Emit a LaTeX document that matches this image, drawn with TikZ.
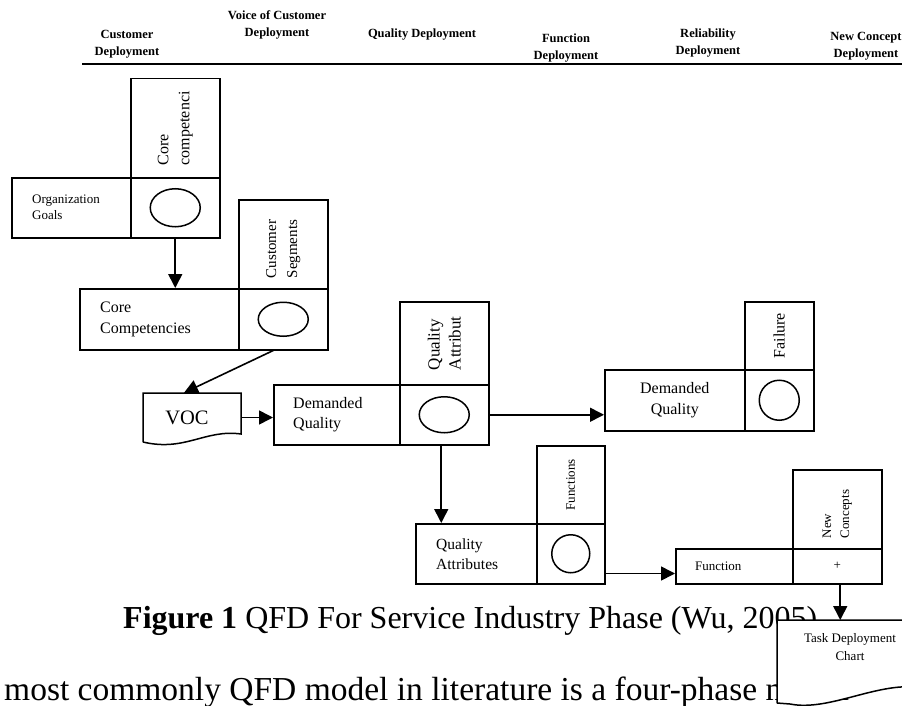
\documentclass[tikz,border=0pt]{standalone}
\usepackage{fontspec}
\setmainfont{Liberation Serif}
\usetikzlibrary{arrows.meta,shapes.geometric}
\begin{document}
\begin{tikzpicture}[x=1pt,y=-1pt,
  box/.style={draw,line width=1.5pt,inner sep=0pt,anchor=north west},
  lbl/.style={inner sep=0pt,align=left},
  vlbl/.style={inner sep=0pt,align=left,rotate=90},
  arr/.style={line width=1.6pt,-{Triangle[length=14pt,width=14pt]}},
  hdr/.style={inner sep=0pt,align=center,font=\bfseries\fontsize{12.5}{16.5}\selectfont},
  oval/.style={draw,ellipse,line width=1.5pt,inner sep=0pt}
]
\useasboundingbox (0,0) rectangle (902,706);

% header
\node[hdr] (h1) at (127,44) {Customer\\Deployment};
\node[hdr] (h2) at (277,25) {Voice of Customer\\Deployment};
\node[hdr] (h3) at (422,35) {Quality Deployment};
\node[hdr] (h4) at (566,48) {Function\\Deployment};
\node[hdr] (h5) at (708,43) {Reliability\\Deployment};
\node[hdr] (h6) at (866,46) {New Concept\\Deployment};
\coordinate (hl) at (82,64);
\coordinate (hr) at (902,64);
\draw[line width=2.5pt] (hl) -- (hr);

% Organization goals
\node[box,minimum width=89pt,minimum height=99pt] (cctop) at (130,78) {};
\node[vlbl,font=\fontsize{16}{21}\selectfont] (cctxt) at (cctop.center) {Core\\competenci};
\node[box,minimum width=119pt,minimum height=60pt] (og) at (11,177) {};
\node[box,minimum width=89pt,minimum height=60pt] (ogc) at (130,177) {};
\node[oval,minimum width=50pt,minimum height=38pt] (ogo) at (ogc.center) {};
\node[lbl,anchor=west,font=\fontsize{13}{16}\selectfont] (ogt) at ([xshift=21pt]og.west) {Organization\\Goals};

% Core competencies
\node[box,minimum width=89pt,minimum height=89pt] (cstop) at (238,199) {};
\node[vlbl,anchor=west,font=\fontsize{15}{21}\selectfont] (cstxt) at ([yshift=11pt]cstop.south) {Customer\\Segments};
\node[box,minimum width=159pt,minimum height=61pt] (ccomp) at (79,288) {};
\node[box,minimum width=89pt,minimum height=61pt] (ccompc) at (238,288) {};
\node[oval,minimum width=50pt,minimum height=34pt] (ccompo) at (ccompc.center) {};
\node[lbl,anchor=west,font=\fontsize{16}{21}\selectfont] (ccompt) at ([xshift=21pt]ccomp.west) {Core\\Competencies};

% VOC
\node[inner sep=0pt,minimum width=98pt,minimum height=49pt] (voc) at (192,417.5) {};
\draw[line width=1.5pt] (143,442) -- (143,393) -- (241,393) -- (241,434)
  .. controls (205,429) and (185,452) .. (143,442);
\node[font=\fontsize{20.5}{24}\selectfont,inner sep=0pt] (voct) at ([xshift=-5pt]voc.center) {VOC};

% Demanded quality (left)
\node[box,minimum width=89pt,minimum height=83pt] (qatop) at (399,301) {};
\node[vlbl,font=\fontsize{17}{21}\selectfont] (qatxt) at (qatop.center) {Quality\\Attribut};
\node[box,minimum width=126pt,minimum height=60pt] (dq1) at (273,384) {};
\node[box,minimum width=89pt,minimum height=60pt] (dq1c) at (399,384) {};
\node[oval,minimum width=50pt,minimum height=36pt] (dq1o) at (dq1c.center) {};
\node[lbl,anchor=west,font=\fontsize{16}{20}\selectfont] (dq1t) at ([xshift=20pt]dq1.west) {Demanded\\Quality};

% Demanded quality (right)
\node[box,minimum width=69pt,minimum height=68pt] (failtop) at (744,301) {};
\node[vlbl,font=\fontsize{16}{21}\selectfont] (failtxt) at (failtop.center) {Failure};
\node[box,minimum width=140pt,minimum height=61pt] (dq2) at (604,369) {};
\node[box,minimum width=69pt,minimum height=61pt] (dq2c) at (744,369) {};
\node[oval,minimum width=40pt,minimum height=40pt] (dq2o) at (dq2c.center) {};
\node[inner sep=0pt,align=center,font=\fontsize{16}{21}\selectfont] (dq2t) at (dq2.center) {Demanded\\Quality};

% Quality attributes
\node[box,minimum width=68pt,minimum height=78pt] (functop) at (536,445) {};
\node[vlbl,font=\fontsize{13}{18}\selectfont] (functxt) at (functop.center) {Functions};
\node[box,minimum width=121pt,minimum height=60pt] (qattr) at (415,523) {};
\node[box,minimum width=68pt,minimum height=60pt] (qattrc) at (536,523) {};
\node[oval,minimum width=38pt,minimum height=38pt] (qattro) at (qattrc.center) {};
\node[lbl,anchor=west,font=\fontsize{15.5}{20}\selectfont] (qattrt) at ([xshift=21pt]qattr.west) {Quality\\Attributes};

% Function
\node[box,minimum width=89pt,minimum height=79pt] (nctop) at (792,469) {};
\node[vlbl,anchor=west,font=\fontsize{13}{18}\selectfont] (nctxt) at ([yshift=11pt]nctop.south) {New\\Concepts};
\node[box,minimum width=117pt,minimum height=35pt] (func) at (675,548) {};
\node[box,minimum width=89pt,minimum height=35pt] (funcc) at (792,548) {};
\node[inner sep=0pt,font=\fontsize{13}{16}\selectfont] (plus) at (funcc.center) {+};
\node[lbl,anchor=west,font=\fontsize{13}{16}\selectfont] (funct) at ([xshift=20pt]func.west) {Function};

% caption and body text
\node[inner sep=0pt,anchor=base west,font=\fontsize{32}{38}\selectfont] (cap) at (123,628)
  {\textbf{Figure 1} QFD For Service Industry Phase (Wu, 2005)};
\node[inner sep=0pt,anchor=base west,font=\fontsize{33.5}{38}\selectfont] (body) at (4,700)
  {most commonly QFD model in literature is a four-phase model};

% Task deployment chart
\node[inner sep=0pt,anchor=north west,minimum width=146pt,minimum height=86pt] (task) at (777,620) {};
\draw[line width=1.5pt,fill=white] (777,703) -- (777,620) -- (923,620) -- (923,688)
  .. controls (880,680) and (830,712) .. (790,704) -- (777,703);
\node[inner sep=0pt,align=center,font=\fontsize{13}{18}\selectfont] (taskt) at (850,647) {Task Deployment\\Chart};

% connectors
\draw[arr] (ogc.south) -- (ogc.south |- ccomp.north);
\draw[arr] ([xshift=-10pt]ccompc.south) -- ([xshift=-8pt]voc.north);
\draw[arr] (voc.east) -- (voc.east -| dq1.west);
\draw[arr] (dq1c.east) -- (dq1c.east -| dq2.west);
\coordinate (d1) at ([xshift=-3pt]dq1c.south);
\draw[arr] (d1) -- (d1 |- qattr.north);
\coordinate (q1) at ([yshift=11pt]qattrc.south east);
\draw[arr] (q1) -- (q1 -| func.west);
\coordinate (f1) at ([xshift=3pt]funcc.south);
\draw[arr] (f1) -- (f1 |- task.north);
\end{tikzpicture}
\end{document}
